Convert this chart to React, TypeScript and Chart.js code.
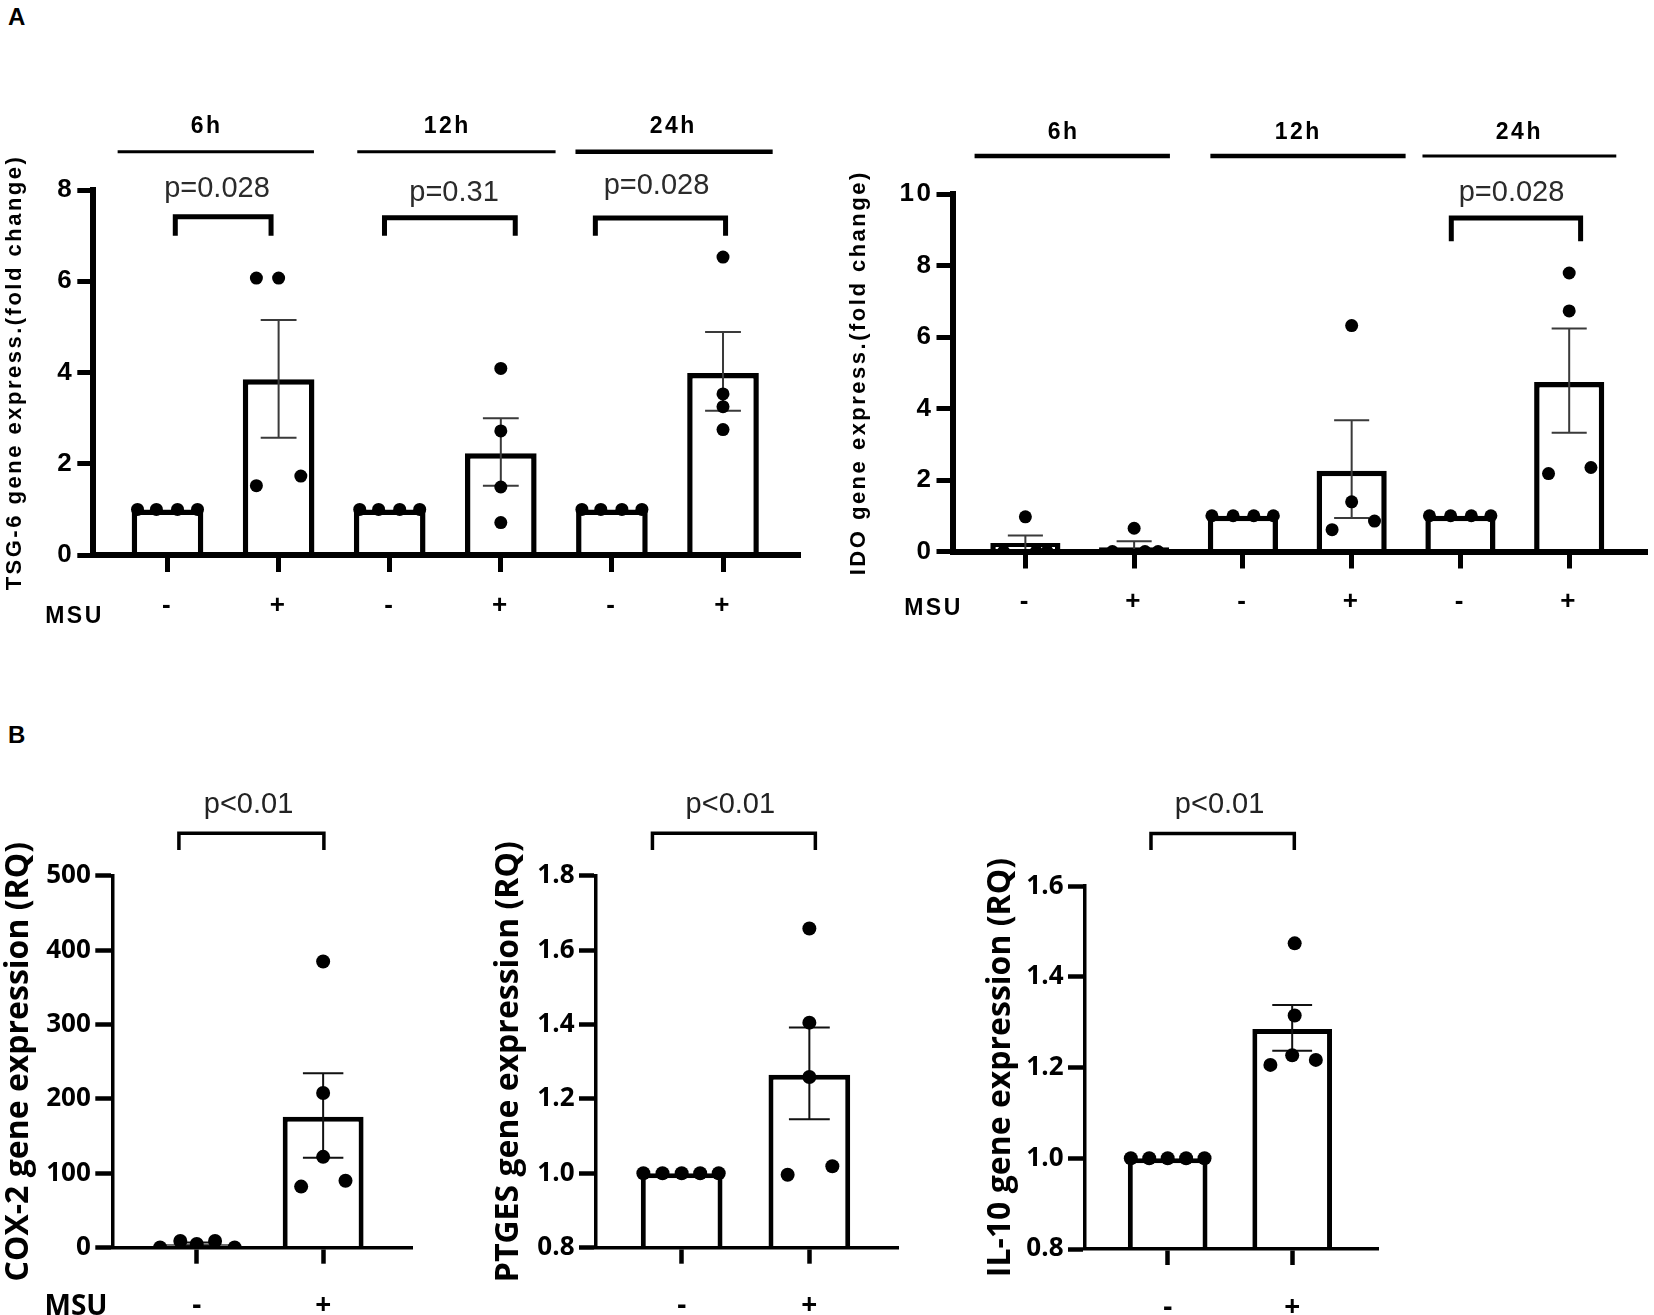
import React, { useEffect, useRef } from 'react';
import { Chart, registerables } from 'chart.js';

Chart.register(...registerables);

// ================= DATA =================
// ---- Panel A, left: TSG-6 ----
const tsgCategories = ['-', '+', '-', '+', '-', '+'];
const tsgGroupLabels = ['6h', '12h', '24h'];
const tsgPValues = ['p=0.028', 'p=0.31', 'p=0.028'];
const tsgMeans = [1.0, 3.85, 1.0, 2.23, 1.0, 3.99];
const tsgSemLow = [1.0, 2.57, 1.0, 1.52, 1.0, 3.16];
const tsgSemHigh = [1.0, 5.15, 1.0, 3.0, 1.0, 4.89];
const tsgPoints = [
  [1, 1, 1, 1],
  [6.07, 6.07, 1.52, 1.73],
  [1, 1, 1, 1],
  [4.09, 2.72, 1.49, 0.71],
  [1, 1, 1, 1],
  [6.53, 3.53, 3.25, 2.75],
];
const tsgJitter = [
  [-0.27, -0.1, 0.09, 0.27],
  [-0.2, 0, -0.2, 0.2],
  [-0.27, -0.1, 0.09, 0.27],
  [0, 0, 0, 0],
  [-0.27, -0.1, 0.09, 0.27],
  [0, 0, 0, 0],
];
const tsgYTicks = [0, 2, 4, 6, 8];

// ---- Panel A, right: IDO ----
const idoCategories = ['-', '+', '-', '+', '-', '+'];
const idoGroupLabels = ['6h', '12h', '24h'];
const idoPValues = ['', '', 'p=0.028'];
const idoMeans = [0.235, 0.12, 1.0, 2.26, 1.0, 4.74];
const idoSemLow = [0, 0, 1.0, 0.94, 1.0, 3.32];
const idoSemHigh = [0.45, 0.29, 1.0, 3.67, 1.0, 6.24];
const idoPoints = [
  [0, 0.97, 0, 0],
  [0, 0.65, 0, 0],
  [1, 1, 1, 1],
  [6.32, 1.39, 0.61, 0.85],
  [1, 1, 1, 1],
  [7.79, 6.73, 2.18, 2.35],
];
const idoJitter = [
  [-0.2, 0, 0.2, 0.1],
  [-0.2, 0, 0.22, 0.1],
  [-0.285, -0.09, 0.1, 0.28],
  [0, 0, -0.18, 0.21],
  [-0.285, -0.09, 0.1, 0.28],
  [0, 0, -0.19, 0.2],
];
const idoYTicks = [0, 2, 4, 6, 8, 10];

// ---- Panel B, left: COX-2 ----
const coxCategories = ['-', '+'];
const coxPValues = ['p<0.01'];
const coxMeans = [4.7, 176];
const coxSemLow = [2.5, 121];
const coxSemHigh = [7, 234.5];
const coxPoints = [
  [0.3, 9, 5, 9, 0.3],
  [384.6, 207.9, 122.1, 82.1, 89.9],
];
const coxJitter = [
  [-0.29, -0.13, 0, 0.145, 0.3],
  [0, 0, 0, -0.174, 0.177],
];
const coxYTicks = [0, 100, 200, 300, 400, 500];

// ---- Panel B, middle: PTGES ----
const ptgesCategories = ['-', '+'];
const ptgesPValues = ['p<0.01'];
const ptgesMeans = [1.0, 1.265];
const ptgesSemLow = [1.0, 1.145];
const ptgesSemHigh = [1.0, 1.392];
const ptgesPoints = [
  [1, 1, 1, 1, 1],
  [1.658, 1.405, 1.259, 0.996, 1.019],
];
const ptgesJitter = [
  [-0.3, -0.15, 0, 0.145, 0.29],
  [0, 0, 0, -0.17, 0.18],
];
const ptgesYTicks = [0.8, 1.0, 1.2, 1.4, 1.6, 1.8];

// ---- Panel B, right: IL-10 ----
const il10Categories = ['-', '+'];
const il10PValues = ['p<0.01'];
const il10Means = [1.0, 1.285];
const il10SemLow = [1.0, 1.237];
const il10SemHigh = [1.0, 1.338];
const il10Points = [
  [1, 1, 1, 1, 1],
  [1.474, 1.315, 1.227, 1.206, 1.217],
];
const il10Jitter = [
  [-0.296, -0.148, 0, 0.148, 0.296],
  [0.02, 0.02, 0, -0.175, 0.19],
];
const il10YTicks = [0.8, 1.0, 1.2, 1.4, 1.6];

// ================= STYLES / LAYOUT =================
const ARIAL = '"Liberation Sans", Arial, Helvetica, sans-serif';
const OPEN = '"Open Sans", "Noto Sans", Arial, sans-serif';

const styleA = {
  tickFont: { family: ARIAL, size: 26, weight: 'bold' },
  xLabelFont: { family: ARIAL, size: 26, weight: 'bold' },
  titleFont: { family: ARIAL, size: 22, weight: 'bold' },
  letterSpacing: '2.5px',
  yTickLen: 16, xTickLen: 17, tickWidth: 5, yAxisWidth: 6, xAxisWidth: 6,
  yLabelPad: 3, xLabelPad: 18,
  barBorder: 5.5, barPct: 0.645, dotR: 6.5,
  errColor: '#3a3a3a', errWidth: 2, capFrac: 0.25,
  pFont: `29px ${ARIAL}`, pColor: '#2b2b2b', bracketWidth: 5,
  groupFont: `bold 23px ${ARIAL}`, groupSpacing: '2.5px',
  msuFont: `bold 23px ${ARIAL}`, msuSpacing: '2.5px',
};

const styleB = {
  tickFont: { family: OPEN, size: 26, weight: 'bold' },
  xLabelFont: { family: OPEN, size: 28, weight: 'bold' },
  titleFont: { family: OPEN, size: 32, weight: 'bold' },
  letterSpacing: '0px',
  yTickLen: 17, xTickLen: 16, tickWidth: 4.5, yAxisWidth: 3.5, xAxisWidth: 3.5,
  yLabelPad: 4.5, xLabelPad: 26,
  barBorder: 5, barPct: 0.64, dotR: 7,
  errColor: '#111', errWidth: 2, capFrac: 0.25,
  pFont: `29px ${ARIAL}`, pColor: '#222', bracketWidth: 3.5,
  groupFont: `bold 21px ${OPEN}`, groupSpacing: '0px',
  msuFont: `bold 28px ${OPEN}`, msuSpacing: '0px',
};

const panels: any[] = [
  {
    key: 'tsg', title: 'TSG-6 gene express.(fold change)',
    categories: tsgCategories, means: tsgMeans, low: tsgSemLow, high: tsgSemHigh,
    points: tsgPoints, jitter: tsgJitter, yTicks: tsgYTicks, decimals: 0,
    pValues: tsgPValues, groupLabels: tsgGroupLabels,
    canvas: { left: 0, top: 0, width: 830, height: 650 },
    area: { left: 93.3, top: 190, right: 800, bottom: 555 },
    xMin: -0.668, xMax: 5.693, titleX: 14.6,
    groupLayout: {
      labelX: [0.352, 2.518, 4.553], labelY: 9.38,
      spans: [[-0.449, 1.318], [1.708, 3.493], [3.672, 5.447]], lineY: 8.84,
      lineWidths: [3, 3, 4.5],
    },
    pLayout: {
      x: [0.445, 2.579, 4.401], y: [8.02, 7.945, 8.085],
      spans: [[0.07, 0.932], [1.953, 3.13], [3.851, 5.023]],
      top: [7.413, 7.393, 7.386], bottom: [7.0, 7.0, 7.0],
    },
    msu: { x: 74.5, y: 616.8 },
    style: styleA,
  },
  {
    key: 'ido', title: 'IDO gene express.(fold change)',
    categories: idoCategories, means: idoMeans, low: idoSemLow, high: idoSemHigh,
    points: idoPoints, jitter: idoJitter, yTicks: idoYTicks, decimals: 0,
    pValues: idoPValues, groupLabels: idoGroupLabels,
    canvas: { left: 830, top: 0, width: 824, height: 650 },
    area: { left: 952.5, top: 194, right: 1651, bottom: 551.5 },
    xMin: -0.67, xMax: 5.72, titleX: 858.9,
    groupLayout: {
      labelX: [0.351, 2.509, 4.542], labelY: 11.71,
      spans: [[-0.467, 1.329], [1.701, 3.496], [3.651, 5.433]], lineY: 11.06,
      lineWidths: [4.5, 4.5, 3],
    },
    pLayout: {
      x: [0, 0, 4.47], y: [0, 0, 10.03],
      spans: [[0, 0], [0, 0], [3.916, 5.105]],
      top: [0, 0, 9.33], bottom: [0, 0, 8.68],
    },
    msu: { x: 933.5, y: 608.3 },
    style: styleA,
  },
  {
    key: 'cox', title: 'COX-2 gene expression (RQ)',
    categories: coxCategories, means: coxMeans, low: coxSemLow, high: coxSemHigh,
    points: coxPoints, jitter: coxJitter, yTicks: coxYTicks, decimals: 0,
    pValues: coxPValues, groupLabels: null,
    canvas: { left: 0, top: 660, width: 460, height: 655 },
    area: { left: 112.3, top: 875.7, right: 412, bottom: 1247.7 },
    xMin: -0.668, xMax: 1.703, titleX: 18.7,
    pLayout: { x: [0.41], y: [595], spans: [[-0.141, 1.006]], top: [556.9], bottom: [534.5] },
    msu: { x: 76, y: 1307 },
    style: styleB,
  },
  {
    key: 'ptges', title: 'PTGES gene expression (RQ)',
    categories: ptgesCategories, means: ptgesMeans, low: ptgesSemLow, high: ptgesSemHigh,
    points: ptgesPoints, jitter: ptgesJitter, yTicks: ptgesYTicks, decimals: 1,
    pValues: ptgesPValues, groupLabels: null,
    canvas: { left: 460, top: 660, width: 490, height: 655 },
    area: { left: 596, top: 875.7, right: 898.6, bottom: 1247.7 },
    xMin: -0.671, xMax: 1.699, titleX: 508.6,
    pLayout: { x: [0.381], y: [1.99], spans: [[-0.229, 1.047]], top: [1.914], bottom: [1.869] },
    msu: null,
    style: styleB,
  },
  {
    key: 'il10', title: 'IL-10 gene expression (RQ)',
    categories: il10Categories, means: il10Means, low: il10SemLow, high: il10SemHigh,
    points: il10Points, jitter: il10Jitter, yTicks: il10YTicks, decimals: 1,
    pValues: il10PValues, groupLabels: null,
    canvas: { left: 950, top: 660, width: 500, height: 655 },
    area: { left: 1085, top: 886.2, right: 1378.6, bottom: 1249 },
    xMin: -0.664, xMax: 1.694, titleX: 1000.6,
    pLayout: { x: [0.417], y: [1.779], spans: [[-0.134, 1.017]], top: [1.716], bottom: [1.68] },
    msu: null,
    style: styleB,
  },
];

// ================= PLUGIN =================
function makeDeco(p: any) {
  const s = p.style;
  return {
    id: 'deco_' + p.key,
    beforeDraw(chart: any) {
      chart.ctx.letterSpacing = s.letterSpacing;
    },
    afterDatasetDraw(chart: any, args: any) {
      if (args.meta.type !== 'bar') return;
      const ctx = chart.ctx;
      const xs = chart.scales.x;
      const ys = chart.scales.y;
      ctx.save();
      ctx.strokeStyle = s.errColor;
      ctx.lineWidth = s.errWidth;
      ctx.lineCap = 'butt';
      p.means.forEach((_m: number, i: number) => {
        const lo = p.low[i];
        const hi = p.high[i];
        if (hi - lo <= 0) return;
        const el = args.meta.data[i];
        const x = xs.getPixelForValue(i);
        const half = (el ? el.width : 70) * s.capFrac;
        const yl = ys.getPixelForValue(lo);
        const yh = ys.getPixelForValue(hi);
        ctx.beginPath();
        ctx.moveTo(x, yl);
        ctx.lineTo(x, yh);
        ctx.moveTo(x - half, yh);
        ctx.lineTo(x + half, yh);
        ctx.moveTo(x - half, yl);
        ctx.lineTo(x + half, yl);
        ctx.stroke();
      });
      ctx.restore();
    },
    afterDraw(chart: any) {
      const ctx = chart.ctx;
      const xs = chart.scales.x;
      const ys = chart.scales.y;
      ctx.save();
      ctx.fillStyle = '#000';
      ctx.strokeStyle = '#000';
      ctx.textAlign = 'center';
      ctx.textBaseline = 'middle';
      // time-point groups
      if (p.groupLabels && p.groupLayout) {
        const g = p.groupLayout;
        p.groupLabels.forEach((t: string, k: number) => {
          ctx.font = s.groupFont;
          ctx.letterSpacing = s.groupSpacing;
          ctx.fillText(t, xs.getPixelForValue(g.labelX[k]), ys.getPixelForValue(g.labelY));
          const y = ys.getPixelForValue(g.lineY);
          ctx.lineWidth = g.lineWidths[k];
          ctx.beginPath();
          ctx.moveTo(xs.getPixelForValue(g.spans[k][0]), y);
          ctx.lineTo(xs.getPixelForValue(g.spans[k][1]), y);
          ctx.stroke();
        });
      }
      // p-values with brackets
      const pl = p.pLayout;
      p.pValues.forEach((t: string, k: number) => {
        if (!t) return;
        ctx.font = s.pFont;
        ctx.letterSpacing = '0px';
        ctx.fillStyle = s.pColor;
        ctx.fillText(t, xs.getPixelForValue(pl.x[k]), ys.getPixelForValue(pl.y[k]));
        const x0 = xs.getPixelForValue(pl.spans[k][0]);
        const x1 = xs.getPixelForValue(pl.spans[k][1]);
        const yt = ys.getPixelForValue(pl.top[k]);
        const yb = ys.getPixelForValue(pl.bottom[k]);
        ctx.strokeStyle = '#000';
        ctx.lineWidth = s.bracketWidth;
        ctx.lineJoin = 'miter';
        ctx.lineCap = 'butt';
        ctx.beginPath();
        ctx.moveTo(x0, yb);
        ctx.lineTo(x0, yt);
        ctx.lineTo(x1, yt);
        ctx.lineTo(x1, yb);
        ctx.stroke();
      });
      // MSU row label
      if (p.msu) {
        ctx.fillStyle = '#000';
        ctx.font = s.msuFont;
        ctx.letterSpacing = s.msuSpacing;
        ctx.fillText('MSU', p.msu.x - p.canvas.left, p.msu.y - p.canvas.top);
      }
      ctx.restore();
    },
  };
}

// ================= CHART BUILDER =================
function buildChart(canvas: HTMLCanvasElement, p: any) {
  const s = p.style;
  const la = {
    left: p.area.left - p.canvas.left,
    top: p.area.top - p.canvas.top,
    right: p.area.right - p.canvas.left,
    bottom: p.area.bottom - p.canvas.top,
  };
  const titleLH = s.titleFont.size * 1.2;
  const padLeft = Math.max(0, p.titleX - p.canvas.left - titleLH / 2);
  const yWidth = la.left - padLeft;
  const xHeight = p.canvas.height - la.bottom;
  const yMin = p.yTicks[0];
  const yMax = p.yTicks[p.yTicks.length - 1];

  const barData = p.means.map((m: number, i: number) => ({ x: i, y: m }));
  const dotData: any[] = [];
  p.points.forEach((vals: number[], i: number) => {
    vals.forEach((v: number, k: number) => dotData.push({ x: i + p.jitter[i][k], y: v }));
  });

  return new Chart(canvas, {
    type: 'bar',
    data: {
      datasets: [
        {
          type: 'bar',
          data: barData,
          backgroundColor: '#ffffff',
          borderColor: '#000000',
          borderWidth: s.barBorder,
          borderSkipped: 'start',
          categoryPercentage: 1,
          barPercentage: s.barPct,
          base: yMin,
          order: 2,
        } as any,
        {
          type: 'scatter',
          data: dotData,
          pointRadius: s.dotR,
          pointHoverRadius: s.dotR,
          pointBackgroundColor: '#000',
          pointBorderWidth: 0,
          showLine: false,
          order: 1,
        } as any,
      ],
    },
    options: {
      responsive: false,
      animation: false,
      devicePixelRatio: 1,
      events: [],
      layout: {
        padding: { left: padLeft, top: la.top, right: p.canvas.width - la.right, bottom: 0 },
      },
      plugins: { legend: { display: false }, tooltip: { enabled: false } },
      scales: {
        x: {
          type: 'linear',
          min: p.xMin,
          max: p.xMax,
          offset: false,
          afterBuildTicks: (sc: any) => {
            sc.ticks = p.categories.map((_c: string, i: number) => ({ value: i }));
          },
          afterFit: (sc: any) => {
            sc.height = xHeight;
          },
          grid: {
            display: true, drawOnChartArea: false, drawTicks: true, offset: false,
            tickLength: s.xTickLen, tickWidth: s.tickWidth, tickColor: '#000',
          },
          border: { display: true, color: '#000', width: s.xAxisWidth, z: 1 },
          ticks: {
            autoSkip: false, maxRotation: 0, minRotation: 0, padding: s.xLabelPad,
            color: '#000', font: s.xLabelFont, z: 1,
            callback: (_v: any, i: number) => p.categories[i],
          },
        } as any,
        y: {
          type: 'linear',
          min: yMin,
          max: yMax,
          afterBuildTicks: (sc: any) => {
            sc.ticks = p.yTicks.map((v: number) => ({ value: v }));
          },
          afterFit: (sc: any) => {
            sc.width = yWidth;
          },
          grid: {
            display: true, drawOnChartArea: false, drawTicks: true,
            tickLength: s.yTickLen, tickWidth: s.tickWidth, tickColor: '#000',
          },
          border: { display: true, color: '#000', width: s.yAxisWidth, z: 1 },
          ticks: {
            padding: s.yLabelPad, color: '#000', font: s.tickFont, z: 1,
            callback: (v: any) => Number(v).toFixed(p.decimals),
          },
          title: {
            display: true, text: p.title, color: '#000', font: s.titleFont, padding: 0,
          },
        } as any,
      },
    } as any,
    plugins: [makeDeco(p)],
  });
}

function PanelChart({ p }: { p: any }) {
  const ref = useRef<HTMLCanvasElement>(null);
  useEffect(() => {
    if (!ref.current) return;
    const chart = buildChart(ref.current, p);
    return () => chart.destroy();
  }, [p]);
  return (
    <canvas
      ref={ref}
      width={p.canvas.width}
      height={p.canvas.height}
      style={{
        position: 'absolute',
        left: p.canvas.left,
        top: p.canvas.top,
        width: p.canvas.width,
        height: p.canvas.height,
      }}
    />
  );
}

export default function App() {
  const letter = {
    position: 'absolute' as const,
    left: 8,
    fontFamily: ARIAL,
    fontSize: 24,
    fontWeight: 700,
    lineHeight: '24px',
    color: '#000',
    margin: 0,
  };
  return (
    <div
      style={{
        position: 'absolute', left: 0, top: 0, width: 1654, height: 1315,
        background: '#fff', overflow: 'hidden',
      }}
    >
      <div style={{ ...letter, top: 5 }}>A</div>
      <div style={{ ...letter, top: 723 }}>B</div>
      {panels.map((p) => (
        <PanelChart key={p.key} p={p} />
      ))}
    </div>
  );
}
